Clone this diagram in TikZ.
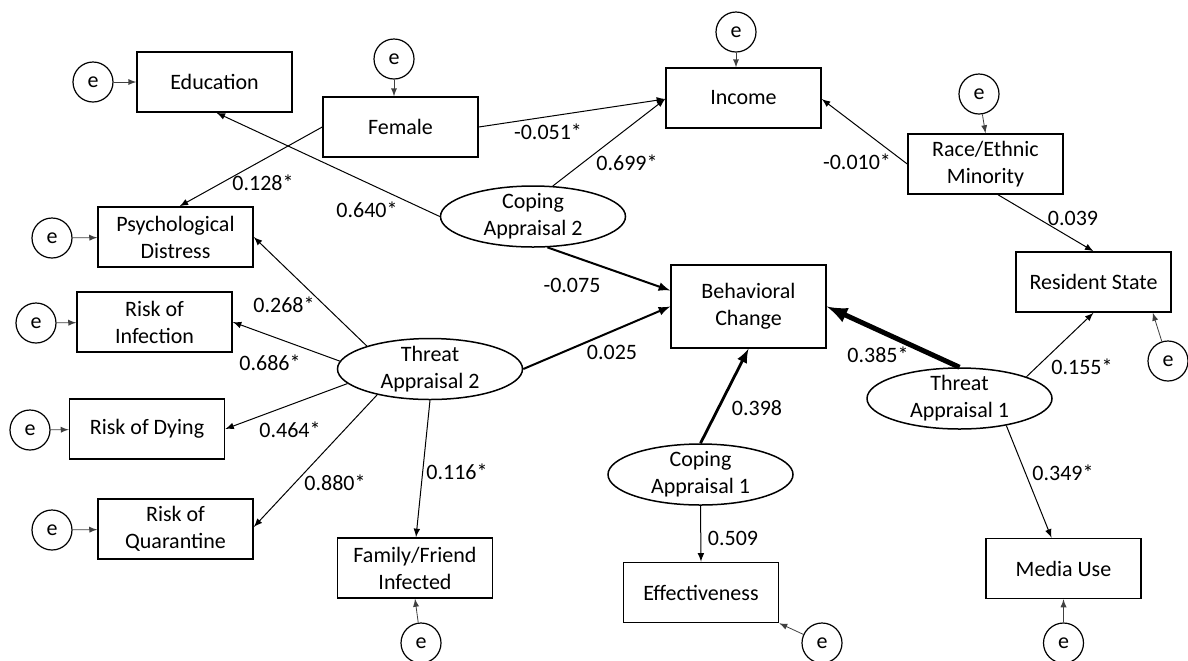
\documentclass[tikz,border=0pt]{standalone}
\usepackage{fontspec}
\setmainfont{Carlito}
\usetikzlibrary{shapes.geometric,calc}

\begin{document}
\begin{tikzpicture}[x=0.5pt,y=-0.5pt,
  font=\fontsize{11}{13.5}\selectfont,
  obs/.style={draw,line width=0.75pt,fill=white,minimum width=77.5pt,minimum height=30pt,align=center,inner sep=1pt},
  lat/.style={draw,ellipse,line width=0.75pt,fill=white,minimum width=92.5pt,minimum height=30.5pt,align=center,inner xsep=0pt,inner ysep=-2.5pt},
  err/.style={draw,circle,line width=0.6pt,minimum size=20pt,inner sep=0pt},
  link/.style={-latex,line width=0.5pt},
  elink/.style={-latex,line width=0.4pt,black!75},
  coef/.style={inner sep=0pt}]
\useasboundingbox (0,0) rectangle (1188,660);

% Observed variables
\node[obs] (edu) at (214.5,82) {Education};
\node[obs] (fem) at (400.5,127) {Female};
\node[obs] (inc) at (743.5,98) {Income};
\node[obs] (race) at (985.5,164) {Race/Ethnic\\Minority};
\node[obs] (res) at (1093.5,282) {Resident State};
\node[obs] (psy) at (175.5,237) {Psychological\\Distress};
\node[obs] (inf) at (154.5,322) {Risk of\\Infection};
\node[obs] (dye) at (147,429) {Risk of Dying};
\node[obs] (qua) at (175.5,529) {Risk of\\Quarantine};
\node[obs] (fam) at (415,568) {Family/Friend\\Infected};
\node[obs,minimum height=41.5pt] (beh) at (748.5,306.5) {Behavioral\\Change};
\node[obs] (eff) at (701,592.5) {Effectiveness};
\node[obs] (med) at (1063.5,568.5) {Media Use};

% Latent variables
\node[lat] (cp2) at (533,216.5) {Coping\\Appraisal 2};
\node[lat] (tp2) at (430,369) {Threat\\Appraisal 2};
\node[lat] (cp1) at (700.5,474.5) {Coping\\Appraisal 1};
\node[lat] (tp1) at (959.5,398.5) {Threat\\Appraisal 1};

% Error terms
\node[err] (eedu) at (93,82) {e};
\node[err] (efem) at (394,59) {e};
\node[err] (einc) at (736,32) {e};
\node[err] (erace) at (979,94) {e};
\node[err] (eres) at (1168,361) {e};
\node[err] (epsy) at (52,238) {e};
\node[err] (einf) at (36,323) {e};
\node[err] (edye) at (30,430) {e};
\node[err] (equa) at (52,530) {e};
\node[err] (efam) at (421,643) {e};
\node[err] (eeff) at (822,643) {e};
\node[err] (emed) at (1063.5,643) {e};

\draw[elink] (eedu) -- (edu);
\draw[elink] (efem) -- (efem |- fem.north);
\draw[elink] (einc) -- (einc |- inc.north);
\draw[elink] (erace) -- (race.north);
\draw[elink] (eres) -- ($(res.south east)+(-19,0)$);
\draw[elink] (epsy) -- (psy);
\draw[elink] (einf) -- (inf);
\draw[elink] (edye) -- (dye);
\draw[elink] (equa) -- (qua);
\draw[elink] (efam) -- (fam.south);
\draw[elink] (eeff) -- (eff.south east);
\draw[elink] (emed) -- (med);

% Paths
\draw[link] (fem.east) -- ($(inc.west)+(0,1)$);
\draw[link] (cp2.57) -- ($(inc.west)+(0,1)$);
\draw[link] (cp2.west) -- ($(edu.south)+(2,0)$);
\draw[link] (fem.west) -- ($(psy.north)+(4,0)$);
\draw[link] (race.west) -- ($(inc.east)+(0,1)$);
\draw[link] ($(race.south)+(12.5,0)$) -- (res.north);
\draw[link] (tp2.160) -- (psy.east);
\draw[link] (tp2.175) -- (inf.east);
\draw[link] (tp2.190) -- (dye.east);
\draw[link] (tp2.206) -- ($(qua.east)+(0,-2)$);
\draw[link] (tp2.south) -- ($(fam.north)+(1,0)$);
\draw[link] (tp1.18) -- (res.south);
\draw[link] (tp1.-30) -- ($(med.north)+(-12,0)$);
\draw[link] (cp1.south) -- (eff.north);
\draw[link,line width=1pt] (cp2.-65) -- ($(beh.west)+(0,-16)$);
\draw[link,line width=1pt] (tp2.east) -- (beh.west);
\draw[link,line width=1.4pt] (cp1.north) -- (beh.south);
\draw[link,line width=2.5pt] (tp1.north) -- (beh.east);

% Coefficients
\node[coef] (k1) at (548,132) {-0.051*};
\node[coef] (k2) at (627,163) {0.699*};
\node[coef] (k3) at (367,210) {0.640*};
\node[coef] (k4) at (263,183) {0.128*};
\node[coef] (k5) at (857,162) {-0.010*};
\node[coef] (k6) at (1073,218) {0.039};
\node[coef] (k7) at (572,285) {-0.075};
\node[coef] (k8) at (612,352) {0.025};
\node[coef] (k9) at (284,305) {0.268*};
\node[coef] (k10) at (270,363) {0.686*};
\node[coef] (k11) at (290,430) {0.464*};
\node[coef] (k12) at (335,483) {0.880*};
\node[coef] (k13) at (457,472) {0.116*};
\node[coef] (k14) at (757,408) {0.398};
\node[coef] (k15) at (733,538) {0.509};
\node[coef] (k16) at (878,355) {0.385*};
\node[coef] (k17) at (1082,367) {0.155*};
\node[coef] (k18) at (1063,473) {0.349*};
\end{tikzpicture}
\end{document}
